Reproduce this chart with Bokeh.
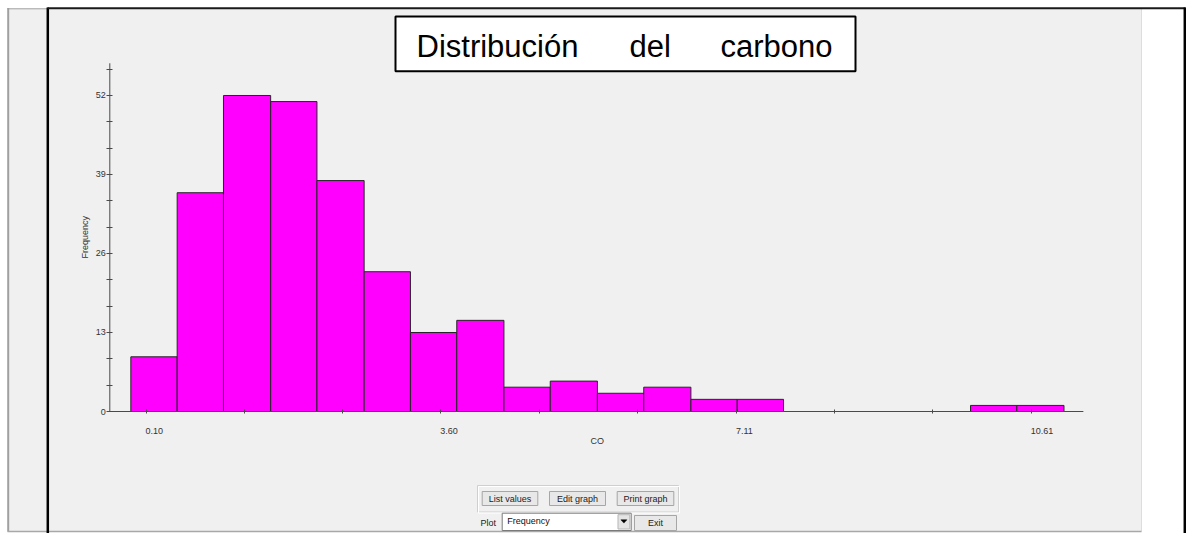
from bokeh.plotting import figure
from bokeh.models import Range1d, LinearAxis, FixedTicker
from bokeh.core.properties import value
from bokeh.embed import file_html
from bokeh.resources import INLINE
import math

# ---------------- data ----------------
title_words = ["Distribución", "del", "carbono"]
x_label = "CO"
y_label = "Frequency"
bin_edges = [-0.08, 0.47, 1.02, 1.58, 2.13, 2.69, 3.24, 3.79, 4.35, 4.90, 5.46,
             6.01, 6.57, 7.12, 7.67, 8.23, 8.78, 9.34, 9.89, 10.44, 11.00]
counts = [9, 36, 52, 51, 38, 23, 13, 15, 4, 5, 3, 4, 2, 2, 0, 0, 0, 0, 1, 1]
x_tick_values = [0.10, 3.60, 7.11, 10.61]
x_tick_labels = ["0.10", "3.60", "7.11", "10.61"]
x_minor_ticks = [1.27, 2.43, 4.77, 5.94, 8.27, 9.44]
y_tick_values = [0, 13, 26, 39, 52]
y_minor_ticks = [4.33, 8.67, 17.33, 21.67, 30.33, 34.67, 43.33, 47.67, 56.33]
x_axis_extent = [-0.33, 11.23]
y_axis_extent = [0, 57.3]
button_labels = ["List values", "Edit graph", "Print graph"]
plot_label = "Plot"
combo_text = "Frequency"
exit_text = "Exit"

# ---------------- layout (pixel calibration of the reference) ----------------
W, H = 1186, 533
M = 0
X_REF_PX, X_REF_VAL, PX_PER_X = 145.5, 0.10, 84.22
Y0_PX, PX_PER_Y = 411.0, 6.077
x_start = X_REF_VAL - (X_REF_PX - M) / PX_PER_X
x_end = X_REF_VAL + (M + W - X_REF_PX) / PX_PER_X
y_start = -(M + H - Y0_PX) / PX_PER_Y
y_end = (Y0_PX - M) / PX_PER_Y
y_axis_x = X_REF_VAL + (109.3 - X_REF_PX) / PX_PER_X

FONT = value("Liberation Sans")

p = figure(width=W, height=H, x_range=Range1d(x_start, x_end), y_range=Range1d(y_start, y_end),
           x_axis_type=None, y_axis_type=None, output_backend="svg", toolbar_location=None,
           min_border=0, outline_line_color=None,
           background_fill_color="white", border_fill_color="white")
p.extra_x_ranges = {"px": Range1d(M, M + W)}
p.extra_y_ranges = {"py": Range1d(M + H, M)}
PX = dict(x_range_name="px", y_range_name="py")

# window background
p.quad(left=[8, 48], right=[47, 1141], top=[8, 8], bottom=[531, 531],
       fill_color="#f0f0f0", line_color=None, **PX)
p.segment(x0=[1141], y0=[8], x1=[1141], y1=[531], line_color="#dddddd", line_width=1, **PX)
p.segment(x0=[7.7], y0=[7.5], x1=[7.7], y1=[531], line_color="#a0a0a0", line_width=2, **PX)
p.segment(x0=[7], y0=[8.3], x1=[47], y1=[8.3], line_color="#a0a0a0", line_width=1, **PX)
p.segment(x0=[7], y0=[531], x1=[1141], y1=[531], line_color="#a8a8a8", line_width=1.5, **PX)
p.segment(x0=[47.3], y0=[7], x1=[47.3], y1=[533], line_color="#000000", line_width=2.5, **PX)
p.segment(x0=[47], y0=[7.7], x1=[1185], y1=[7.7], line_color="#1a1a1a", line_width=2, **PX)
p.segment(x0=[1184.3], y0=[7], x1=[1184.3], y1=[533], line_color="#000000", line_width=2.5, **PX)

# title box
p.quad(left=[395], right=[855], top=[16], bottom=[70.7], fill_color="white",
       line_color="black", line_width=2, **PX)
p.text(x=[416, 629, 720], y=[45.5, 45.5, 45.5], text=title_words, text_font=FONT,
       text_font_size="31px", text_color="black", text_align="left",
       text_baseline="middle", **PX)

# histogram bars
lefts = [bin_edges[i] for i in range(len(counts)) if counts[i] > 0]
rights = [bin_edges[i + 1] for i in range(len(counts)) if counts[i] > 0]
tops = [c for c in counts if c > 0]
p.quad(left=lefts, right=rights, bottom=[0] * len(tops), top=tops,
       fill_color="#ff00ff", line_color="#262626", line_width=1)

# axis lines
p.segment(x0=[x_axis_extent[0]], y0=[0], x1=[x_axis_extent[1]], y1=[0], line_color="#4a4a4a", line_width=1)
p.segment(x0=[y_axis_x], y0=[y_axis_extent[0]], x1=[y_axis_x], y1=[y_axis_extent[1]],
          line_color="#4a4a4a", line_width=1)

xaxis = LinearAxis(fixed_location=0,
                   ticker=FixedTicker(ticks=x_tick_values, minor_ticks=x_minor_ticks),
                   axis_line_color=None, major_tick_in=2, major_tick_out=2,
                   minor_tick_in=2, minor_tick_out=2,
                   major_tick_line_color="#4a4a4a", minor_tick_line_color="#4a4a4a",
                   major_label_text_color=None)
p.add_layout(xaxis, "below")
yaxis = LinearAxis(fixed_location=y_axis_x,
                   ticker=FixedTicker(ticks=y_tick_values, minor_ticks=y_minor_ticks),
                   axis_line_color=None, major_tick_in=3, major_tick_out=3,
                   minor_tick_in=3, minor_tick_out=3,
                   major_tick_line_color="#4a4a4a", minor_tick_line_color="#4a4a4a",
                   major_label_text_font="Liberation Sans", major_label_text_font_size="9px",
                   major_label_text_color="#333333", major_label_standoff=1)
p.add_layout(yaxis, "left")

# x tick labels (left-aligned at the tick as in the reference)
p.text(x=x_tick_values, y=[430] * len(x_tick_values), text=x_tick_labels,
       y_range_name="py", text_font=FONT, text_font_size="9px", text_color="#333333",
       text_align="left", text_baseline="middle", x_offset=-0.5)

# axis titles
p.text(x=[596.7], y=[440], text=[x_label], text_font=FONT, text_font_size="9px",
       text_color="#333333", text_align="center", text_baseline="middle", **PX)
p.text(x=[84.3], y=[236.7], text=[y_label], angle=[math.pi / 2], text_font=FONT,
       text_font_size="9px", text_color="#333333", text_align="center",
       text_baseline="middle", **PX)

# button panel
p.quad(left=[477], right=[678], top=[485], bottom=[511.5], fill_color=None,
       line_color="#cfcfcf", line_width=1, **PX)
p.quad(left=[478], right=[679], top=[486], bottom=[512.5], fill_color=None,
       line_color="#ffffff", line_width=1, **PX)
bl = [481.7, 549.0, 616.7]
br = [537.3, 605.0, 673.3]
p.quad(left=bl, right=br, top=[491] * 3, bottom=[505] * 3, fill_color="#e8e8e8",
       line_color="#a6a6a6", line_width=1, **PX)
p.text(x=[(a + b) / 2 for a, b in zip(bl, br)], y=[498.3] * 3, text=button_labels,
       text_font=FONT, text_font_size="9px", text_color="#222222", text_align="center",
       text_baseline="middle", **PX)

# plot selector row
p.text(x=[480], y=[522.3], text=[plot_label], text_font=FONT, text_font_size="9px",
       text_color="#222222", text_align="left", text_baseline="middle", **PX)
p.quad(left=[501.7], right=[630.7], top=[512.7], bottom=[530], fill_color="white",
       line_color="#7a7a7a", line_width=1, **PX)
p.text(x=[506.7], y=[520.5], text=[combo_text], text_font=FONT, text_font_size="9px",
       text_color="#111111", text_align="left", text_baseline="middle", **PX)
p.quad(left=[617.5], right=[629.3], top=[514.2], bottom=[528.5], fill_color="#e4e4e4",
       line_color="#b5b5b5", line_width=1, **PX)
p.patch(x=[620.4, 626.4, 623.4], y=[519.3, 519.3, 522.6], fill_color="black",
        line_color="black", line_width=0.5, **PX)
p.quad(left=[634], right=[676], top=[515], bottom=[530], fill_color="#e8e8e8",
       line_color="#a6a6a6", line_width=1, **PX)
p.text(x=[655], y=[522.5], text=[exit_text], text_font=FONT, text_font_size="9px",
       text_color="#222222", text_align="center", text_baseline="middle", **PX)

open("out.html", "w").write(file_html(p, INLINE))
